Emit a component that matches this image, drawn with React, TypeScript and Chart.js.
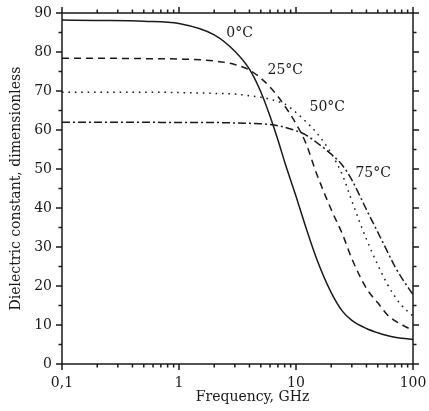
import React, { useEffect, useRef } from "react";
import { Chart, registerables } from "chart.js";

Chart.register(...registerables);

// Frequency in GHz
const frequencies = [0.1, 0.2, 0.5, 1, 2, 3, 4, 5, 6, 7, 8, 10, 12, 15, 20, 25, 30, 40, 50, 60, 70, 80, 100];
// Dielectric constant of water at each temperature
const eps0C = [88.2, 88.1, 87.9, 87.3, 84.4, 80.2, 75.6, 69.8, 63.5, 57.5, 51.8, 43.0, 35.5, 27.0, 18.3, 13.5, 11.2, 9.1, 8.0, 7.3, 6.85, 6.6, 6.3];
const eps25C = [78.4, 78.4, 78.3, 78.2, 77.7, 76.8, 75.4, 73.3, 71.0, 68.6, 66.2, 61.6, 57.0, 48.8, 39.6, 33.2, 27.0, 19.4, 15.7, 12.7, 11.1, 10.1, 8.6];
const eps50C = [69.7, 69.7, 69.7, 69.6, 69.4, 69.2, 68.8, 68.4, 67.9, 67.3, 66.7, 64.5, 62.3, 59.3, 54.0, 48.4, 41.8, 32.0, 25.4, 20.6, 17.3, 15.0, 12.3];
const eps75C = [62.0, 62.0, 62.0, 61.9, 61.9, 61.8, 61.7, 61.6, 61.4, 61.1, 60.7, 59.8, 58.8, 56.8, 53.8, 50.9, 47.2, 39.6, 33.8, 29.0, 25.0, 22.1, 17.8];

const seriesLabels = ["0°C", "25°C", "50°C", "75°C"];
const labelFreq = [3.3, 8.1, 18.5, 45.7];
const labelEps = [84.9, 75.4, 65.9, 49.0];

const xTickValues = [0.1, 1, 10, 100];
const xTickLabels = ["0,1", "1", "10", "100"];
const yMin = 0;
const yMax = 90;
const yStep = 10;

const xTitle = "Frequency, GHz";
const yTitle = "Dielectric constant, dimensionless";

const FONT_FAMILY = "'DejaVu Serif', serif";
const INK = "#1a1a1a";

const framePlugin = {
  id: "frameTicks",
  afterDatasetsDraw(chart: any) {
    const { ctx, chartArea: a, scales } = chart;
    const xs = scales.x;
    const ys = scales.y;
    ctx.save();
    ctx.strokeStyle = INK;
    ctx.lineWidth = 1.5;
    ctx.strokeRect(a.left, a.top, a.right - a.left, a.bottom - a.top);
    ctx.beginPath();
    for (let v = yMin; v <= yMax; v += yStep / 2) {
      const py = ys.getPixelForValue(v);
      const len = v % yStep === 0 ? 6 : 3.5;
      ctx.moveTo(a.left - len, py);
      ctx.lineTo(a.left, py);
      ctx.moveTo(a.right, py);
      ctx.lineTo(a.right + len, py);
    }
    const decades = [0.1, 1, 10];
    decades.forEach((d) => {
      for (let m = 1; m < 10; m++) {
        const px = xs.getPixelForValue(d * m);
        const len = m === 1 ? 6 : 3.5;
        ctx.moveTo(px, a.bottom);
        ctx.lineTo(px, a.bottom + len);
        ctx.moveTo(px, a.top);
        ctx.lineTo(px, a.top - len);
      }
    });
    const pEnd = xs.getPixelForValue(100);
    ctx.moveTo(pEnd, a.bottom);
    ctx.lineTo(pEnd, a.bottom + 6);
    ctx.moveTo(pEnd, a.top);
    ctx.lineTo(pEnd, a.top - 6);
    ctx.stroke();

    ctx.fillStyle = INK;
    ctx.font = `14px ${FONT_FAMILY}`;
    ctx.textAlign = "center";
    ctx.textBaseline = "middle";
    seriesLabels.forEach((t, i) => {
      ctx.fillText(t, xs.getPixelForValue(labelFreq[i]), ys.getPixelForValue(labelEps[i]));
    });
    // x-axis title (offset right as in the original figure)
    ctx.fillText(xTitle, (a.left + a.right) / 2 + 15, chart.height - 14);
    ctx.restore();
  },
};

export default function App() {
  const canvasRef = useRef<HTMLCanvasElement | null>(null);

  useEffect(() => {
    const canvas = canvasRef.current;
    if (!canvas) return;
    const mk = (label: string, data: number[], dash: number[]) => ({
      label,
      data: frequencies.map((f, i) => ({ x: f, y: data[i] })),
      borderColor: INK,
      backgroundColor: INK,
      borderWidth: 1.5,
      borderDash: dash,
      pointRadius: 0,
      fill: false,
      cubicInterpolationMode: "monotone" as const,
    });
    const chart = new Chart(canvas, {
      type: "line",
      data: {
        datasets: [
          mk(seriesLabels[0], eps0C, []),
          mk(seriesLabels[1], eps25C, [7, 5]),
          mk(seriesLabels[2], eps50C, [1.6, 4.8]),
          mk(seriesLabels[3], eps75C, [8, 3, 2, 3]),
        ],
      },
      options: {
        animation: false,
        responsive: false,
        devicePixelRatio: 1,
        layout: { padding: { left: 0, top: 13, right: 16, bottom: 0 } },
        plugins: { legend: { display: false }, tooltip: { enabled: false } },
        scales: {
          x: {
            type: "logarithmic",
            min: 0.1,
            max: 100,
            grid: { display: false, drawTicks: false },
            border: { display: false },
            afterBuildTicks: (scale: any) => {
              scale.ticks = xTickValues.map((v) => ({ value: v }));
            },
            afterFit: (scale: any) => {
              scale.height = 47;
              scale.paddingLeft = 0;
              scale.paddingRight = 0;
              scale.paddingTop = 0;
              scale.paddingBottom = 0;
            },
            ticks: {
              autoSkip: false,
              maxRotation: 0,
              padding: 11,
              color: INK,
              font: { family: FONT_FAMILY, size: 14 },
              callback: (value: any) => {
                const i = xTickValues.findIndex((v) => Math.abs(v - Number(value)) < 1e-9);
                return i >= 0 ? xTickLabels[i] : "";
              },
            },
          },
          y: {
            type: "linear",
            min: yMin,
            max: yMax,
            grid: { display: false, drawTicks: false },
            border: { display: false },
            afterFit: (scale: any) => {
              scale.width = 62;
              scale.paddingLeft = 0;
              scale.paddingRight = 0;
              scale.paddingTop = 0;
              scale.paddingBottom = 0;
            },
            ticks: {
              stepSize: yStep,
              padding: 10,
              color: INK,
              font: { family: FONT_FAMILY, size: 14 },
            },
            title: {
              display: true,
              text: yTitle,
              color: INK,
              font: { family: FONT_FAMILY, size: 14 },
              padding: { top: 8, bottom: 0 },
            },
          },
        },
      },
      plugins: [framePlugin],
    });
    return () => chart.destroy();
  }, []);

  return (
    <div style={{ position: "absolute", left: 0, top: 0, width: 429, height: 411, background: "#fff" }}>
      <canvas ref={canvasRef} width={429} height={411} style={{ display: "block" }} />
    </div>
  );
}
